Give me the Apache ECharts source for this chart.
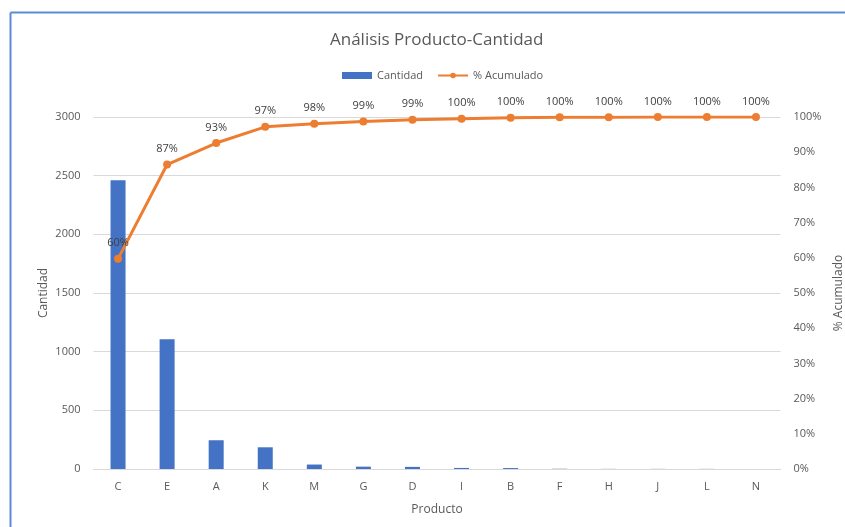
<!DOCTYPE html>
<html>
<head>
<meta charset="utf-8">
<script src="https://cdn.jsdelivr.net/npm/echarts@6/dist/echarts.min.js"></script>
<style>
html,body{margin:0;padding:0;background:#fff;}
#chart{width:845px;height:527px;}
</style>
</head>
<body>
<div id="chart"></div>
<script>
const categories = ['C','E','A','K','M','G','D','I','B','F','H','J','L','N'];
const cantidad = [2460, 1105, 245, 185, 38, 20, 18, 9, 8, 2, 1, 1, 1, 0];
const acumulado = [59.7, 86.5, 92.6, 97.2, 98.1, 98.7, 99.2, 99.5, 99.8, 99.9, 99.9, 100, 100, 100];
const leftTicks = [0, 500, 1000, 1500, 2000, 2500, 3000];
const rightTicks = [0, 10, 20, 30, 40, 50, 60, 70, 80, 90, 100];

const font = '"Open Sans", "Noto Sans", sans-serif';
const chart = echarts.init(document.getElementById('chart'));
chart.setOption({
  backgroundColor: '#ffffff',
  animation: false,
  textStyle: { fontFamily: font },
  title: {
    text: 'Análisis Producto-Cantidad',
    left: 325, top: 27,
    textStyle: { fontSize: 17, fontWeight: 'normal', color: '#595959', fontFamily: font }
  },
  legend: {
    top: 65, left: 337,
    itemWidth: 30, itemHeight: 7, itemGap: 14,
    textStyle: { fontSize: 11, color: '#595959', fontFamily: font },
    data: [
      { name: 'Cantidad', icon: 'rect' },
      { name: '% Acumulado' }
    ]
  },
  grid: { left: 93.5, right: 64.5, top: 117, bottom: 58, containLabel: false, outerBoundsMode: 'none' },
  xAxis: {
    type: 'category',
    data: categories,
    name: 'Producto',
    nameLocation: 'middle',
    nameGap: 35,
    nameTextStyle: { fontSize: 12, color: '#595959', fontFamily: font },
    axisLine: { show: true, lineStyle: { color: '#d9d9d9' } },
    axisTick: { show: false },
    axisLabel: { color: '#595959', fontSize: 11, margin: 12, fontFamily: font }
  },
  yAxis: [
    {
      type: 'value', min: leftTicks[0], max: leftTicks[leftTicks.length - 1], interval: 500,
      name: 'Cantidad', nameLocation: 'middle', nameGap: 44, nameRotate: 90, nameMoveOverlap: false,
      nameTextStyle: { fontSize: 12, color: '#595959', fontFamily: font },
      axisLine: { show: false }, axisTick: { show: false },
      axisLabel: { color: '#595959', fontSize: 11, margin: 13, fontFamily: font, formatter: v => String(v) },
      splitLine: { lineStyle: { color: '#d9d9d9' } }
    },
    {
      type: 'value', min: rightTicks[0], max: rightTicks[rightTicks.length - 1], interval: 10,
      name: '% Acumulado', nameLocation: 'middle', nameGap: 51, nameRotate: 90,
      nameTextStyle: { fontSize: 12, color: '#595959', fontFamily: font },
      axisLine: { show: false }, axisTick: { show: false },
      axisLabel: { color: '#595959', fontSize: 11, margin: 13, fontFamily: font, formatter: '{value}%' },
      splitLine: { show: false }
    }
  ],
  series: [
    {
      name: 'Cantidad', type: 'bar', data: cantidad, yAxisIndex: 0,
      barWidth: 15,
      itemStyle: { color: '#4472C4' }
    },
    {
      name: '% Acumulado', type: 'line', data: acumulado, yAxisIndex: 1,
      symbol: 'circle', symbolSize: 8,
      lineStyle: { color: '#ED7D31', width: 3 },
      itemStyle: { color: '#ED7D31' },
      label: {
        show: true, position: 'top', distance: 6,
        color: '#404040', fontSize: 11, fontFamily: font,
        formatter: p => Math.round(p.value) + '%'
      },
      z: 5
    }
  ],
  graphic: [
    { type: 'line', shape: { x1: 10.5, y1: 12.5, x2: 845, y2: 12.5 }, style: { stroke: '#5b8bd6', lineWidth: 2 } },
    { type: 'line', shape: { x1: 10.5, y1: 12.5, x2: 10.5, y2: 527 }, style: { stroke: '#5b8bd6', lineWidth: 2 } }
  ]
});
</script>
</body>
</html>
